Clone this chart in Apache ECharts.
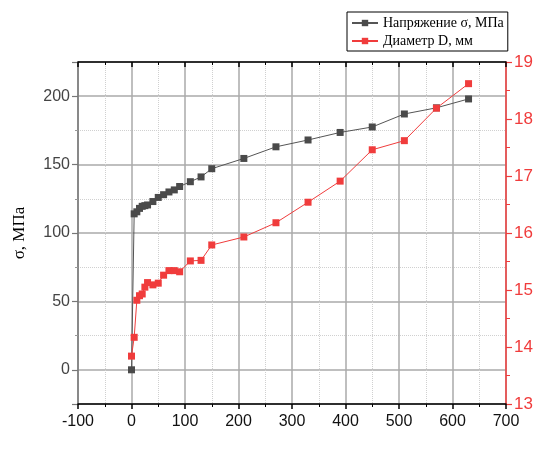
<!DOCTYPE html>
<html>
<head>
<meta charset="utf-8">
<script src="https://cdn.jsdelivr.net/npm/echarts@6/dist/echarts.min.js"></script>
<style>
    html, body { margin: 0; padding: 0; background: #fff; }
    #main { width: 545px; height: 450px; }
</style>
</head>
<body>
<div id="main"></div>
<script>
    // время, мин
    var tValues = [0, 5, 10, 15, 20, 25, 30, 40, 50, 60, 70, 80, 90, 110, 130, 150, 210, 270, 330, 390, 450, 510, 570, 630];
    // Напряжение σ, МПа
    var sigmaValues = [0, 114, 115.5, 118, 119.5, 120, 120.5, 123, 126, 128, 130, 131.5, 134, 137.5, 141, 147, 154.5, 163, 168, 173.5, 177.5, 187, 191.5, 198];
    // Диаметр D, мм
    var diamValues = [13.84, 14.17, 14.82, 14.9, 14.93, 15.05, 15.13, 15.09, 15.12, 15.26, 15.34, 15.34, 15.32, 15.51, 15.52, 15.79, 15.93, 16.18, 16.54, 16.91, 17.46, 17.62, 18.19, 18.62];

    var seriesNames = ['Напряжение σ, МПа', 'Диаметр D, мм'];

    var black = '#4a4a4a';
    var red = '#f03c3c';

    function pairs(xs, ys) {
        var out = [];
        for (var i = 0; i < xs.length; i++) {
            out.push([xs[i], ys[i]]);
        }
        return out;
    }

    var myChart = echarts.init(document.getElementById('main'));
    var option = {
        backgroundColor: '#fff',
        animation: false,
        grid: { left: 78, right: 39, top: 62, bottom: 46 },
        legend: {
            orient: 'vertical',
            left: 347,
            top: 12,
            width: 160,
            padding: [4, 4, 3, 4],
            itemGap: 4,
            itemWidth: 26,
            itemHeight: 8,
            borderColor: '#000',
            borderWidth: 1,
            backgroundColor: '#fff',
            textStyle: { fontFamily: 'Liberation Serif', fontSize: 14, color: '#000' },
            data: seriesNames
        },
        xAxis: [
            {
                type: 'value',
                min: -100,
                max: 700,
                interval: 100,
                axisLine: { show: true, onZero: false, lineStyle: { color: '#000', width: 1.5 } },
                axisTick: { show: true, inside: false, length: 5, lineStyle: { color: '#000', width: 1.5 } },
                minorTick: { show: true, splitNumber: 2, length: 3, lineStyle: { color: '#000' } },
                axisLabel: { color: '#111', fontSize: 16, fontFamily: 'Liberation Sans', margin: 10 },
                splitLine: { show: true, lineStyle: { color: '#aaa', width: 1.5 } },
                minorSplitLine: { show: true, lineStyle: { color: '#d0d0d0', type: 'dotted', width: 1 } }
            },
            {
                type: 'value',
                position: 'top',
                min: -100,
                max: 700,
                interval: 100,
                axisLine: { show: true, onZero: false, lineStyle: { color: '#000', width: 1.5 } },
                axisTick: { show: true, inside: true, length: 5, lineStyle: { color: '#000', width: 1.5 } },
                minorTick: { show: true, splitNumber: 2, length: 3, lineStyle: { color: '#000' } },
                axisLabel: { show: false },
                splitLine: { show: false }
            }
        ],
        yAxis: [
            {
                type: 'value',
                min: -25,
                max: 225,
                splitNumber: 5,
                name: 'σ, МПа',
                nameLocation: 'middle',
                nameGap: 50,
                nameTextStyle: { fontFamily: 'Liberation Serif', fontSize: 17, color: '#000' },
                axisLine: { show: true, onZero: false, lineStyle: { color: '#777', width: 1.5 } },
                axisTick: { show: true, inside: false, length: 6, lineStyle: { color: '#777', width: 1.2 } },
                minorTick: { show: true, splitNumber: 2, length: 3, lineStyle: { color: '#999' } },
                axisLabel: {
                    color: '#444', fontSize: 16, fontFamily: 'Liberation Sans', margin: 8,
                    showMinLabel: false, showMaxLabel: false
                },
                splitLine: { show: true, lineStyle: { color: '#aaa', width: 1.5 } },
                minorSplitLine: { show: true, lineStyle: { color: '#d0d0d0', type: 'dotted', width: 1 } }
            },
            {
                type: 'value',
                position: 'right',
                min: 13,
                max: 19,
                interval: 1,
                axisLine: { show: true, onZero: false, lineStyle: { color: red, width: 1.5 } },
                axisTick: { show: true, inside: false, length: 6, lineStyle: { color: red, width: 1.2 } },
                minorTick: { show: true, splitNumber: 2, length: 4, lineStyle: { color: red } },
                axisLabel: { color: red, fontSize: 17, fontFamily: 'Liberation Sans', margin: 8 },
                splitLine: { show: false }
            }
        ],
        series: [
            {
                name: seriesNames[0],
                type: 'line',
                xAxisIndex: 0,
                yAxisIndex: 0,
                symbol: 'rect',
                symbolSize: 7,
                itemStyle: { color: black },
                lineStyle: { color: '#555', width: 1 },
                data: pairs(tValues, sigmaValues)
            },
            {
                name: seriesNames[1],
                type: 'line',
                xAxisIndex: 0,
                yAxisIndex: 1,
                symbol: 'rect',
                symbolSize: 7,
                itemStyle: { color: red },
                lineStyle: { color: red, width: 1 },
                data: pairs(tValues, diamValues)
            }
        ]
    };
    myChart.setOption(option);
</script>
</body>
</html>
